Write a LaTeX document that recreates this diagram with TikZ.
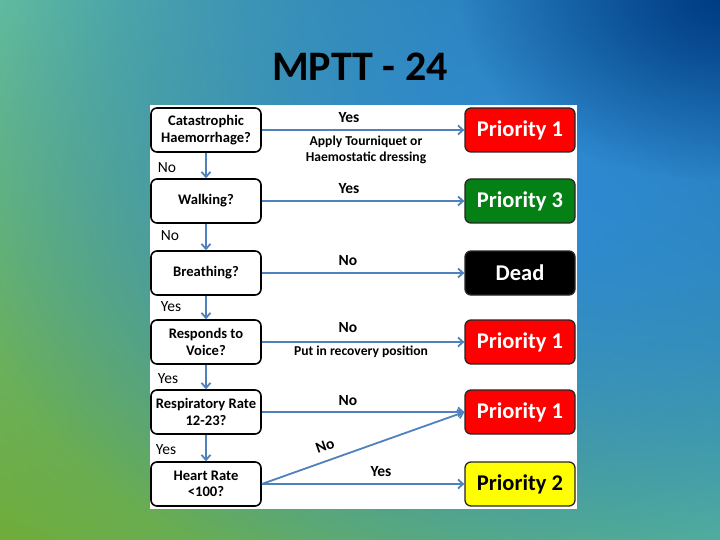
\documentclass[tikz,border=0pt]{standalone}
\usepackage{fontspec}
\setmainfont{Carlito}
\usetikzlibrary{arrows.meta,fadings,shadings}
\definecolor{bgUL}{RGB}{95,185,160}
\definecolor{bgUR}{RGB}{15,95,175}
\definecolor{bgLL}{RGB}{112,172,58}
\definecolor{bgLR}{RGB}{85,178,150}
\definecolor{blobblue}{RGB}{45,137,215}
\definecolor{cornerblue}{RGB}{0,60,130}
\definecolor{arrowblue}{RGB}{79,129,189}
\definecolor{prred}{RGB}{255,0,0}
\definecolor{prgreen}{RGB}{5,128,20}
\definecolor{pryellow}{RGB}{255,255,0}
\tikzfading[name=blobfade, inner color=transparent!0, outer color=transparent!100]
\begin{document}
\begin{tikzpicture}[x=1pt,y=-1pt,
  qbox/.style={draw=black, line width=1.6pt, rounded corners=6pt, fill=white,
    minimum width=110pt, minimum height=44pt, align=center, inner sep=0pt,
    font=\bfseries\fontsize{14.6}{16.5}\selectfont},
  pbox/.style={draw=black!85, line width=1.3pt, rounded corners=6pt,
    minimum width=110pt, minimum height=44pt, inner sep=0pt,
    font=\bfseries\fontsize{22.5}{25}\selectfont},
  conn/.style={draw=arrowblue, line width=1.8pt, -{Straight Barb[length=5pt,width=9pt]}},
  lab/.style={font=\bfseries\fontsize{15.5}{17}\selectfont, inner sep=0pt},
  note/.style={font=\bfseries\fontsize{13.6}{15}\selectfont, inner sep=0pt},
  side/.style={font=\fontsize{15.5}{17}\selectfont, inner sep=0pt}]
\useasboundingbox (0,0) rectangle (720,540);
% background
\shade[upper left=bgUL, upper right=bgUR, lower left=bgLL, lower right=bgLR] (0,0) rectangle (720,540);
\fill[blobblue, path fading=blobfade] (520,200) ellipse [x radius=560pt, y radius=420pt];
\fill[cornerblue, path fading=blobfade] (720,0) ellipse [x radius=260pt, y radius=180pt];
% title
\node[font=\bfseries\fontsize{42}{44}\selectfont, inner sep=0pt] (title) at (360,67) {MPTT - 24};
% panel
\fill[white] (150,105) rectangle (577,509);
% left question nodes
\node[qbox] (q1) at (206,130) {Catastrophic\\Haemorrhage?};
\node[qbox] (q2) at (206,201) {Walking?};
\node[qbox] (q3) at (206,273) {Breathing?};
\node[qbox] (q4) at (206,342) {Responds to\\Voice?};
\node[qbox] (q5) at (206,412) {Respiratory Rate\\12-23?};
\node[qbox] (q6) at (206,484) {Heart Rate\\\textless100?};
% right outcome nodes
\node[pbox, fill=prred, text=white] (p1) at (520,130) {Priority 1};
\node[pbox, fill=prgreen, text=white] (p3) at (520,201) {Priority 3};
\node[pbox, fill=black, text=white] (dead) at (520,273) {Dead};
\node[pbox, fill=prred, text=white] (p1b) at (520,342) {Priority 1};
\node[pbox, fill=prred, text=white] (p1c) at (520,412) {Priority 1};
\node[pbox, fill=pryellow, text=black] (p2) at (520,484) {Priority 2};
% vertical connectors
\draw[conn] (q1) -- (q2);
\draw[conn] (q2) -- (q3);
\draw[conn] (q3) -- (q4);
\draw[conn] (q4) -- (q5);
\draw[conn] (q5) -- (q6);
% horizontal connectors
\draw[conn] (q1) -- (p1);
\draw[conn] (q2) -- (p3);
\draw[conn] (q3) -- (dead);
\draw[conn] (q4) -- (p1b);
\draw[conn] (q5) -- (p1c);
\draw[conn] (q6.east) -- (p1c.west);
\draw[conn] (q6) -- (p2);
% side labels
\node[side] (s1) at (167,168) {No};
\node[side] (s2) at (170,236) {No};
\node[side] (s3) at (171,307) {Yes};
\node[side] (s4) at (168,379) {Yes};
\node[side] (s5) at (166,450) {Yes};
% connector labels
\node[lab] (l1) at (349,118) {Yes};
\node[note] (n1a) at (366,142) {Apply Tourniquet or};
\node[note] (n1b) at (366,158) {Haemostatic dressing};
\node[lab] (l2) at (349,189) {Yes};
\node[lab] (l3) at (348,261) {No};
\node[lab] (l4) at (348,328) {No};
\node[note] (n4) at (361,352) {Put in recovery position};
\node[lab] (l5) at (348,401) {No};
\node[lab, rotate=19.4] (l6) at (325,446) {No};
\node[lab] (l7) at (381,472) {Yes};
\end{tikzpicture}
\end{document}
